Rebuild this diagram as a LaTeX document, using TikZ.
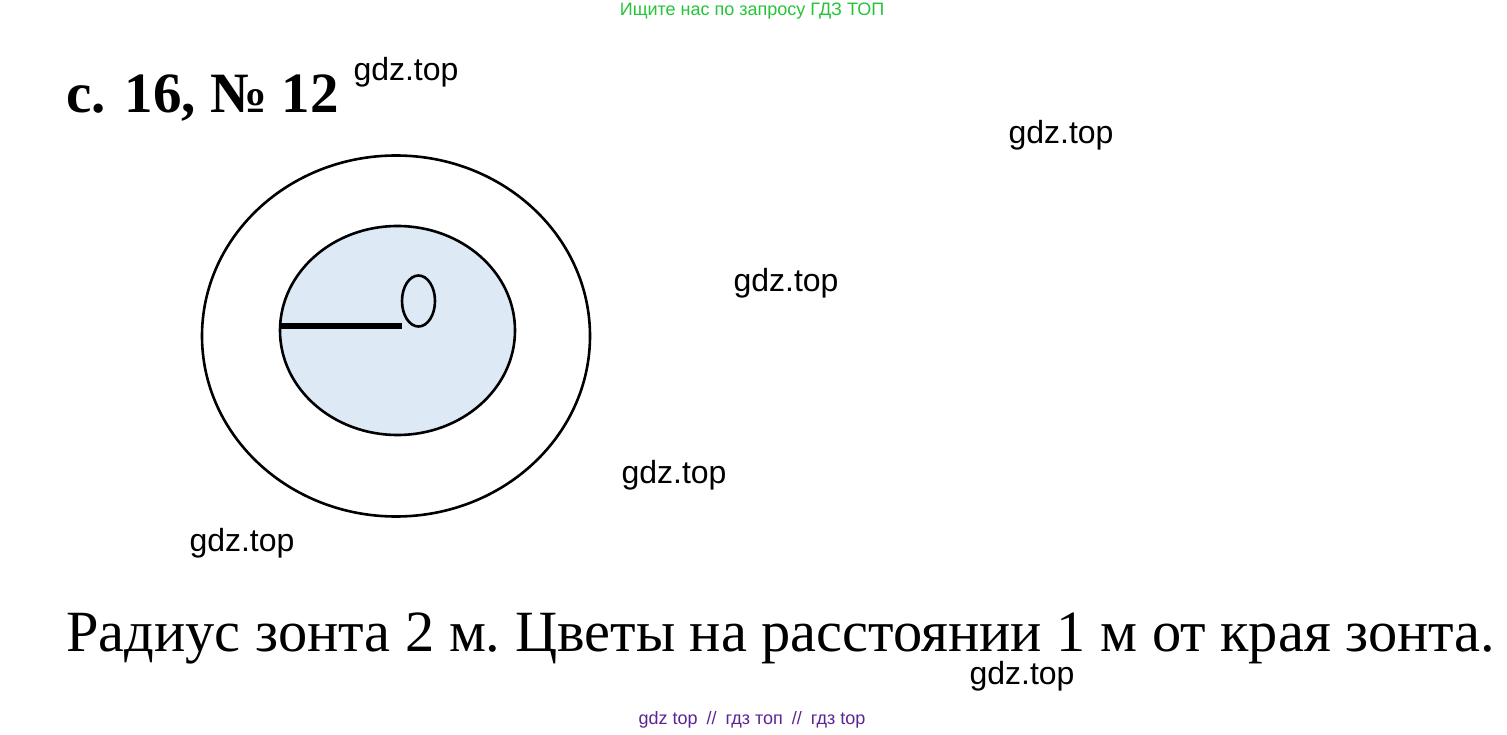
\documentclass[tikz,border=0pt]{standalone}
\usepackage{fontspec}
\setmainfont{Liberation Serif}
\newfontfamily\marksans{Liberation Sans}
\usepackage{tikz}
\usetikzlibrary{shapes.geometric, positioning}
\definecolor{umbrellablue}{RGB}{222, 233, 246}
\definecolor{searchgreen}{RGB}{38, 196, 58}
\definecolor{footpurple}{RGB}{92, 36, 150}

\begin{document}
\begin{tikzpicture}[
    x=1pt, y=-1pt,
    ring/.style={draw, ellipse, line width=2.6pt, inner sep=0pt},
    watermark/.style={font=\marksans\fontsize{32}{32}\selectfont, inner sep=0pt},
    radius/.style={line width=6pt}
]
    % Page
    \fill[white] (0,0) rectangle (1507,735);
    \useasboundingbox (0,0) rectangle (1507,735);

    % Header and footer lines
    \node[font=\marksans\fontsize{18}{18}\selectfont, text=searchgreen, inner sep=0pt] (search) at (752,11) {Ищите нас по запросу ГДЗ ТОП};
    \node[font=\bfseries\fontsize{57}{57}\selectfont, anchor=base west, inner sep=0pt] (title) at (66,113) {с. 16, № 12};
    \node[font=\marksans\fontsize{18}{18}\selectfont, text=footpurple, inner sep=0pt] (footer) at (752,720) {gdz top\hspace{9pt}//\hspace{9pt}гдз топ\hspace{9pt}//\hspace{9pt}гдз top};

    % Circles
    \node[ring, minimum width=388, minimum height=361] (flowers) at (396,336) {};
    \node[ring, fill=umbrellablue, minimum width=235, minimum height=209] (umbrella) at (397.5,330.5) {};
    \node[ring, minimum width=33, minimum height=51] (pole) at (418.5,301) {};

    % Radius
    \coordinate (rim) at (281,326);
    \coordinate (centre) at (402,326);
    \draw[radius] (rim) -- (centre);

    % Task text
    \node[font=\frenchspacing\fontsize{58.4}{58.4}\selectfont, anchor=base west, inner sep=0pt] (task) at (66,651) {Радиус зонта 2 м. Цветы на расстоянии 1 м от края зонта.};

    % Watermarks
    \node[watermark] (mark1) at (406,72) {gdz.top};
    \node[watermark] (mark2) at (1061,135) {gdz.top};
    \node[watermark] (mark3) at (786,283) {gdz.top};
    \node[watermark] (mark4) at (674,475) {gdz.top};
    \node[watermark] (mark5) at (242,543) {gdz.top};
    \node[watermark] (mark6) at (1022,676) {gdz.top};
\end{tikzpicture}
\end{document}
